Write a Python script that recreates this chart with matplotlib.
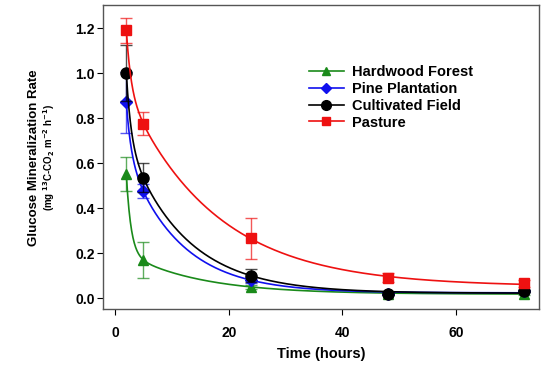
import matplotlib
matplotlib.use("Agg")
import matplotlib.pyplot as plt
import numpy as np

plt.rcParams['font.family'] = ['Liberation Sans', 'DejaVu Sans']
plt.rcParams['font.weight'] = 'bold'
plt.rcParams['mathtext.default'] = 'bf'

# Sampling times (hours)
time_h = [2, 5, 24, 48, 72]

# Mean mineralization rates and standard errors
hardwood = [0.55, 0.17, 0.05, 0.02, 0.02]
hardwood_err = [0.075, 0.08, 0.008, 0.005, 0.005]
pine = [0.87, 0.475, 0.08, 0.02, 0.03]
pine_err = [0.135, 0.03, 0.015, 0.005, 0.005]
cultivated = [1.00, 0.535, 0.10, 0.02, 0.03]
cultivated_err = [0.125, 0.065, 0.03, 0.005, 0.005]
pasture = [1.19, 0.775, 0.265, 0.09, 0.065]
pasture_err = [0.055, 0.05, 0.09, 0.02, 0.015]

labels = ['Hardwood Forest', 'Pine Plantation', 'Cultivated Field', 'Pasture']
colors = ['#1a8a1a', '#1010ee', 'black', '#ee1111']
markers = ['^', 'D', 'o', 's']
msizes = [7, 6.5, 8, 7]


def fit_curve(x, y, xs):
    """Double exponential decay fit y = y0 + a*exp(-b x) + c*exp(-d x)."""
    x = np.asarray(x, float)
    y = np.asarray(y, float)
    best = None
    for b in np.geomspace(0.2, 1.2, 120):
        for d in np.geomspace(0.01, 0.2, 120):
            A = np.column_stack([np.ones_like(x), np.exp(-b * x),
                                 np.exp(-d * x)])
            coef, *_ = np.linalg.lstsq(A, y, rcond=None)
            if coef[1] < 0 or coef[2] < 0:
                continue
            r = np.sum((A @ coef - y) ** 2)
            if best is None or r < best[0]:
                best = (r, b, d, coef)
    _, b, d, coef = best
    return coef[0] + coef[1] * np.exp(-b * xs) + coef[2] * np.exp(-d * xs)


fig = plt.figure(figsize=(5.42, 3.66), dpi=100)
ax = fig.add_axes([0.190, 0.156, 0.805, 0.830])

xs = np.linspace(2, 72, 600)
series = [(hardwood, hardwood_err), (pine, pine_err),
          (cultivated, cultivated_err), (pasture, pasture_err)]
for (vals, errs), lab, col, mk, ms in zip(series, labels, colors, markers, msizes):
    ax.plot(xs, fit_curve(time_h, vals, xs), color=col, lw=1.2)
    ax.errorbar(time_h, vals, yerr=errs, fmt='none', ecolor=col,
                elinewidth=1.0, capsize=4, capthick=1.0, alpha=0.7)
    ax.plot(time_h, vals, linestyle='none', marker=mk, color=col,
            markersize=ms)
    # legend proxy
    ax.plot([], [], color=col, lw=1.2, marker=mk, markersize=ms - 1,
            label=lab)

ax.set_xlim(-2.1, 74.6)
ax.set_ylim(-0.048, 1.302)
ax.set_xticks([0, 20, 40, 60])
ax.set_yticks(np.arange(0, 1.21, 0.2))
ax.yaxis.set_major_formatter(plt.FuncFormatter(lambda v, p: f'{v:.1f}'))
ax.tick_params(direction='out', length=4, width=0.8, labelsize=10,
               top=False, right=False)
ax.tick_params(axis='x', pad=8)
ax.tick_params(axis='y', pad=2)
for sp in ax.spines.values():
    sp.set_color('#555555')
    sp.set_linewidth(1.0)

ax.set_xlabel('Time (hours)', fontsize=10.5, fontweight='bold', labelpad=5)
fig.text(0.062, 0.57, 'Glucose Mineralization Rate', rotation=90,
         ha='center', va='center', fontsize=9.5, fontweight='bold')
fig.text(0.090, 0.57, r'(mg $^{13}$C-CO$_2$ m$^{-2}$ h$^{-1}$)', rotation=90,
         ha='center', va='center', fontsize=7, fontweight='bold')

handles, labs = ax.get_legend_handles_labels()
ax.legend(handles[:4], labs[:4], loc='center left',
          bbox_to_anchor=(0.472, 0.697), frameon=False, fontsize=10.5,
          handlelength=2.4, handletextpad=0.55, labelspacing=0.2,
          borderpad=0, borderaxespad=0, numpoints=1)

fig.savefig('out.png', dpi=100)
